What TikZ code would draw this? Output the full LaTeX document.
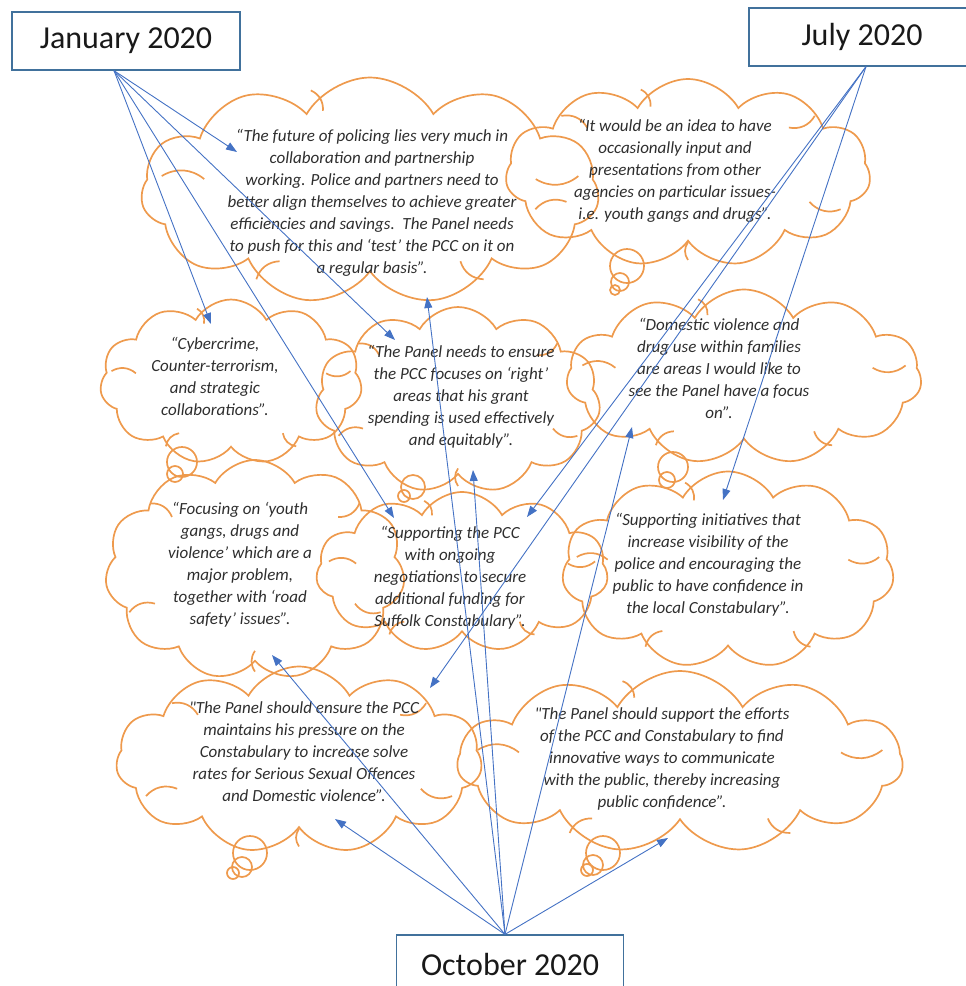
\documentclass[tikz,border=0pt]{standalone}
\usepackage{fontspec}
\setmainfont{Carlito}
\usetikzlibrary{shapes.symbols,arrows.meta,calc}
\definecolor{cloudorange}{HTML}{EE9A4D}
\definecolor{arrowblue}{HTML}{4472C4}
\definecolor{boxblue}{HTML}{41719C}
\definecolor{quotegray}{HTML}{2E2E2E}
\newcommand{\cloudarcs}[2]{%
  \foreach \i/\j in {#2} {
    \coordinate (m) at ($(#1.puff \i)!0.5!(#1.puff \j)$);
    \draw[innerline] ($(#1.center)!0.955!(m)$) to[bend left=35] ($(#1.center)!0.76!(m)$);
  }}
\begin{document}
\begin{tikzpicture}[x=1pt,y=-1pt,
  cloudshape/.style={cloud, cloud puffs=11, cloud puff arc=120, cloud ignores aspect,
     draw=cloudorange, line width=1.7pt, inner sep=0pt},
  innerline/.style={draw=cloudorange, line width=1.7pt},
  quote/.style={align=center, font=\itshape\fontsize{17}{22}\selectfont, text=quotegray, inner sep=0pt},
  datebox/.style={draw=boxblue, line width=1.3pt, rectangle, minimum height=58pt,
     font=\fontsize{32}{38}\selectfont, text=black!90},
  conn/.style={draw=arrowblue, line width=0.9pt, -{Triangle[length=11pt,width=8pt]}},
  bubble/.style={draw=cloudorange, line width=1.7pt}]

\useasboundingbox (0,0) rectangle (966,986);

% clouds
\node[cloudshape, minimum width=458pt, minimum height=227pt] (c1) at (370,191) {};
\node[cloudshape, minimum width=365pt, minimum height=188pt] (c2) at (688,173) {};
\node[cloudshape, minimum width=262pt, minimum height=165pt] (c3) at (231,382) {};
\node[cloudshape, minimum width=285pt, minimum height=186pt] (c4) at (458,400) {};
\node[cloudshape, minimum width=355pt, minimum height=175pt] (c5) at (744,377) {};
\node[cloudshape, minimum width=300pt, minimum height=220pt] (c6) at (255,570) {};
\node[cloudshape, minimum width=292pt, minimum height=160pt] (c7) at (462,572) {};
\node[cloudshape, minimum width=332pt, minimum height=197pt] (c8) at (728,570) {};
\node[cloudshape, minimum width=366pt, minimum height=187pt] (c9) at (299,760) {};
\node[cloudshape, minimum width=445pt, minimum height=182pt] (c10) at (680,762) {};

% inner arcs of the clouds
\cloudarcs{c1}{1/2,3/4,5/6,7/8,9/10}
\cloudarcs{c2}{1/2,2/3,4/5,6/7,8/9,10/11}
\cloudarcs{c3}{1/2,3/4,5/6,7/8,9/10}
\cloudarcs{c4}{2/3,4/5,6/7,8/9,10/11}
\cloudarcs{c5}{1/2,3/4,5/6,7/8,9/10}
\cloudarcs{c6}{2/3,4/5,6/7,8/9,10/11}
\cloudarcs{c7}{1/2,3/4,5/6,7/8,9/10}
\cloudarcs{c8}{1/2,3/4,5/6,7/8,9/10}
\cloudarcs{c9}{2/3,4/5,6/7,8/9,10/11}
\cloudarcs{c10}{1/2,3/4,5/6,7/8,9/10}

% thought bubbles
\draw[bubble] (627,266) circle (17) (620,282) circle (9) (615,290) circle (5);
\draw[bubble] (182,462) circle (15) (175,474) circle (8);
\draw[bubble] (413,487) circle (12) (404,496) circle (6);
\draw[bubble] (673,467) circle (15) (667,480) circle (8);
\draw[bubble] (250,853) circle (17) (242,867) circle (10) (233,873) circle (6);
\draw[bubble] (603,853) circle (17) (593,865) circle (10) (587,870) circle (6);

% quotes
\node[quote] (q1) at (372,203) {“The future of policing lies very much in\\collaboration and partnership\\working. Police and partners need to\\better align themselves to achieve greater\\efficiencies and savings.\ \ The Panel needs\\to push for this and ‘test’ the PCC on it on\\a regular basis”.};
\node[quote] (q2) at (675,171) {“It would be an idea to have\\occasionally input and\\presentations from other\\agencies on particular issues-\\i.e. youth gangs and drugs”.};
\node[quote] (q3) at (215,376) {“Cybercrime,\\Counter-terrorism,\\and strategic\\collaborations”.};
\node[quote] (q4) at (461,397) {“The Panel needs to ensure\\the PCC focuses on ‘right’\\areas that his grant\\spending is used effectively\\and equitably”.};
\node[quote] (q5) at (719,368) {“Domestic violence and\\drug use within families\\are areas I would like to\\see the Panel have a focus\\on”.};
\node[quote] (q6) at (240,565) {“Focusing on ‘youth\\gangs, drugs and\\violence’ which are a\\major problem,\\together with ‘road\\safety’ issues”.};
\node[quote] (q7) at (450,578) {“Supporting the PCC\\with ongoing\\negotiations to secure\\additional funding for\\Suffolk Constabulary”.};
\node[quote] (q8) at (708,565) {“Supporting initiatives that\\increase visibility of the\\police and encouraging the\\public to have confidence in\\the local Constabulary”.};
\node[quote] (q9) at (304,752) {\textquotedbl The Panel should ensure the PCC\\maintains his pressure on the\\Constabulary to increase solve\\rates for Serious Sexual Offences\\and Domestic violence”.};
\node[quote] (q10) at (662,759) {\textquotedbl The Panel should support the efforts\\of the PCC and Constabulary to find\\innovative ways to communicate\\with the public, thereby increasing\\public confidence”.};

% date boxes
\node[datebox, minimum width=228pt] (jan) at (126,41) {January 2020};
\node[datebox, minimum width=226pt] (jul) at (862,37) {July 2020};
\node[datebox, minimum width=227pt] (oct) at (510,964) {October 2020};

\coordinate (js) at ([xshift=-12pt]jan.south);
\coordinate (ys) at ([xshift=4pt]jul.south);
\coordinate (os) at ([xshift=-5pt]oct.north);

% arrow targets
\coordinate (j1) at (237,152);
\coordinate (j3) at (211,324);
\coordinate (j4) at (395,340);
\coordinate (j7) at (394,518);
\coordinate (y7) at (527,517);
\coordinate (y9) at (430,688);
\coordinate (y8) at (723,500);
\coordinate (o6) at (272,655);
\coordinate (o9) at (335,819);
\coordinate (o1) at (427,297);
\coordinate (o4) at (473,470);
\coordinate (o5) at (632,427);
\coordinate (o10) at (668,838);

\draw[conn] (js) -- (j1);
\draw[conn] (js) -- (j3);
\draw[conn] (js) -- (j4);
\draw[conn] (js) -- (j7);
\draw[conn] (ys) -- (y7);
\draw[conn] (ys) -- (y9);
\draw[conn] (ys) -- (y8);
\draw[conn] (os) -- (o6);
\draw[conn] (os) -- (o9);
\draw[conn] (os) -- (o1);
\draw[conn] (os) -- (o4);
\draw[conn] (os) -- (o5);
\draw[conn] (os) -- (o10);
\end{tikzpicture}
\end{document}
